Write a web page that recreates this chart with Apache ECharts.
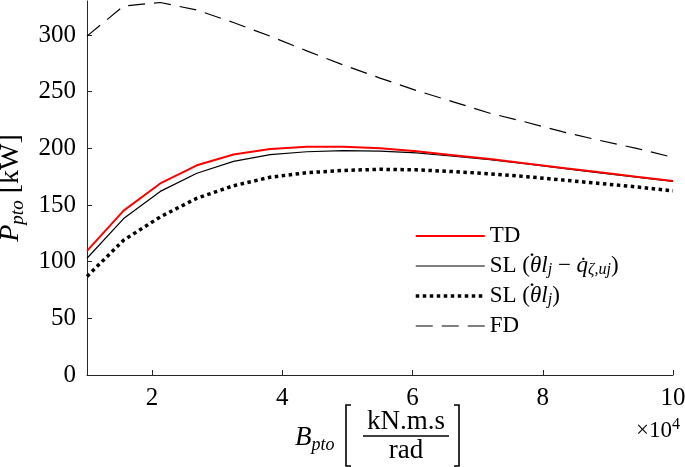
<!DOCTYPE html>
<html><head><meta charset="utf-8">
<script src="https://cdn.jsdelivr.net/npm/echarts@6/dist/echarts.min.js"></script>
<style>html,body{margin:0;padding:0;background:#fff}#c{width:685px;height:467px}</style>
</head><body><div id="c"></div>
<script>
var xValues = [1, 1.5625, 2.125, 2.6875, 3.25, 3.8125, 4.375, 4.9375, 5.5, 6.0625, 6.625, 7.1875, 7.75, 8.3125, 8.875, 9.4375, 10];
var tdValues = [109.5, 145, 169, 185, 194.5, 199.5, 201.5, 201.5, 200, 197.5, 194, 190.5, 186.6, 182.7, 178.8, 175, 171.2];
var slFullValues = [103, 138, 162, 178, 188.5, 194.5, 197, 198, 197.5, 196, 193, 190, 186.3, 182.3, 178.4, 174.6, 170.8];
var slThetaValues = [87, 119, 139.5, 156, 167, 174.5, 178.5, 180.5, 181.5, 181, 179.5, 177.5, 175, 172, 169, 166, 162.5];
var fdValues = [299, 325.6, 328.7, 322, 311, 299, 286, 273.5, 262, 251, 241, 231, 223, 214.5, 207, 200, 192];
var xTicks = [2, 4, 6, 8, 10];
var yTicks = [0, 50, 100, 150, 200, 250, 300];
var seriesNames = ['TD', 'SL1', 'SL2', 'FD'];

function pairs(v){ return xValues.map(function(x,i){ return [x, v[i]]; }); }
var FONT = 'Liberation Serif';
var axisCol = '#262626';
var chart = echarts.init(document.getElementById('c'));
var rich = {
  n: {fontFamily: FONT, fontSize: 23, color: '#000'},
  i: {fontFamily: FONT, fontSize: 23, fontStyle: 'italic', color: '#000'},
  s: {fontFamily: FONT, fontSize: 16, fontStyle: 'italic', color: '#000', verticalAlign: 'bottom', padding: [12, 0, 0, 0]}
};
var legendLabels = {
  'TD': '{n|TD}',
  'SL1': '{n|SL (}{i|θl}{s|j}{n| − }{i|q̇}{s|ζ,uj}{n|)}',
  'SL2': '{n|SL (}{i|θl}{s|j}{n|)}',
  'FD': '{n|FD}'
};
chart.setOption({
  animation: false,
  grid: {left: 87, right: 12, top: 1, bottom: 92, containLabel: false, outerBoundsMode: 'none'},
  legend: {
    left: 414, top: 224, padding: 0, orient: 'vertical', itemWidth: 69, itemHeight: 14, itemGap: 6,
    data: [
      {name: 'TD', lineStyle: {width: 2}},
      {name: 'SL1', lineStyle: {width: 1.2}},
      {name: 'SL2', lineStyle: {width: 3.5, type: [3.5, 3.5]}},
      {name: 'FD', lineStyle: {width: 1.2, type: [17, 9]}}
    ],
    itemStyle: {opacity: 0},
    formatter: function(name){ return legendLabels[name]; },
    textStyle: {fontFamily: FONT, fontSize: 23, color: '#000', lineHeight: 24, rich: rich}
  },
  xAxis: {
    type: 'value', min: 1, max: 10,
    axisLine: {lineStyle: {color: axisCol, width: 1}},
    axisTick: {inside: true, length: 5, customValues: xTicks, lineStyle: {color: axisCol}},
    axisLabel: {customValues: xTicks, margin: 11, fontFamily: FONT, fontSize: 25, color: '#000'},
    splitLine: {show: false}
  },
  yAxis: {
    type: 'value', min: 0, max: 330,
    name: '{i|P}{s|pto}{n| [kW]}', nameLocation: 'middle', nameRotate: 90, nameGap: 58,
    nameTextStyle: {rich: {
      n: {fontFamily: FONT, fontSize: 28, color: '#000'},
      i: {fontFamily: FONT, fontSize: 28, fontStyle: 'italic', color: '#000'},
      s: {fontFamily: FONT, fontSize: 19, fontStyle: 'italic', color: '#000', verticalAlign: 'bottom', padding: [15,0,0,0]}
    }},
    axisLine: {show: true, lineStyle: {color: axisCol, width: 1}},
    axisTick: {show: true, inside: true, length: 5, customValues: yTicks, lineStyle: {color: axisCol}},
    axisLabel: {customValues: yTicks, margin: 11, fontFamily: FONT, fontSize: 25, color: '#000'},
    splitLine: {show: false}
  },
  series: [
    {name: 'TD', type: 'line', data: pairs(tdValues), symbol: 'none', z: 4,
     lineStyle: {color: '#ff0000', width: 2}, itemStyle: {color: '#ff0000'}},
    {name: 'SL1', type: 'line', data: pairs(slFullValues), symbol: 'none', z: 3,
     lineStyle: {color: '#000', width: 1.2}, itemStyle: {color: '#000'}},
    {name: 'SL2', type: 'line', data: pairs(slThetaValues), symbol: 'none', z: 2,
     lineStyle: {color: '#000', width: 3.5, type: [3.5, 3.5]}, itemStyle: {color: '#000'}},
    {name: 'FD', type: 'line', data: pairs(fdValues), symbol: 'none', z: 1,
     lineStyle: {color: '#000', width: 1.2, type: [17, 9]}, itemStyle: {color: '#000'}}
  ],
  graphic: [
    {type: 'text', x: 532, y: 262, z: 100, style: {text: '.', align: 'center', verticalAlign: 'bottom', fontFamily: FONT, fontSize: 24, fill: '#000'}},
    {type: 'text', x: 532, y: 292, z: 100, style: {text: '.', align: 'center', verticalAlign: 'bottom', fontFamily: FONT, fontSize: 24, fill: '#000'}},
    {type: 'text', left: 295, top: 424, style: {
      text: '{i|B}{s|pto}', rich: {
        i: {fontFamily: FONT, fontSize: 27, fontStyle: 'italic', fill: '#000'},
        s: {fontFamily: FONT, fontSize: 18, fontStyle: 'italic', fill: '#000', verticalAlign: 'bottom', padding: [15,0,0,0]}
      }}},
    {type: 'polyline', shape: {points: [[351, 405], [346, 405], [346, 466], [351, 466]]}, style: {stroke: '#000', lineWidth: 1.6, fill: null}},
    {type: 'polyline', shape: {points: [[454, 405], [459, 405], [459, 466], [454, 466]]}, style: {stroke: '#000', lineWidth: 1.6, fill: null}},
    {type: 'text', x: 406, y: 422, style: {text: 'kN.m.s', align: 'center', verticalAlign: 'middle', fontFamily: FONT, fontSize: 27, fill: '#000'}},
    {type: 'line', shape: {x1: 363, y1: 436, x2: 449, y2: 436}, style: {stroke: '#000', lineWidth: 1.3}},
    {type: 'text', x: 406, y: 451, style: {text: 'rad', align: 'center', verticalAlign: 'middle', fontFamily: FONT, fontSize: 27, fill: '#000'}},
    {type: 'text', left: 636, top: 417, style: {
      text: '{n|×10}{p|4}', rich: {
        n: {fontFamily: FONT, fontSize: 23, fill: '#000'},
        p: {fontFamily: FONT, fontSize: 16, fill: '#000', verticalAlign: 'top', padding: [0,0,12,0]}
      }}}
  ]
});
</script></body></html>
